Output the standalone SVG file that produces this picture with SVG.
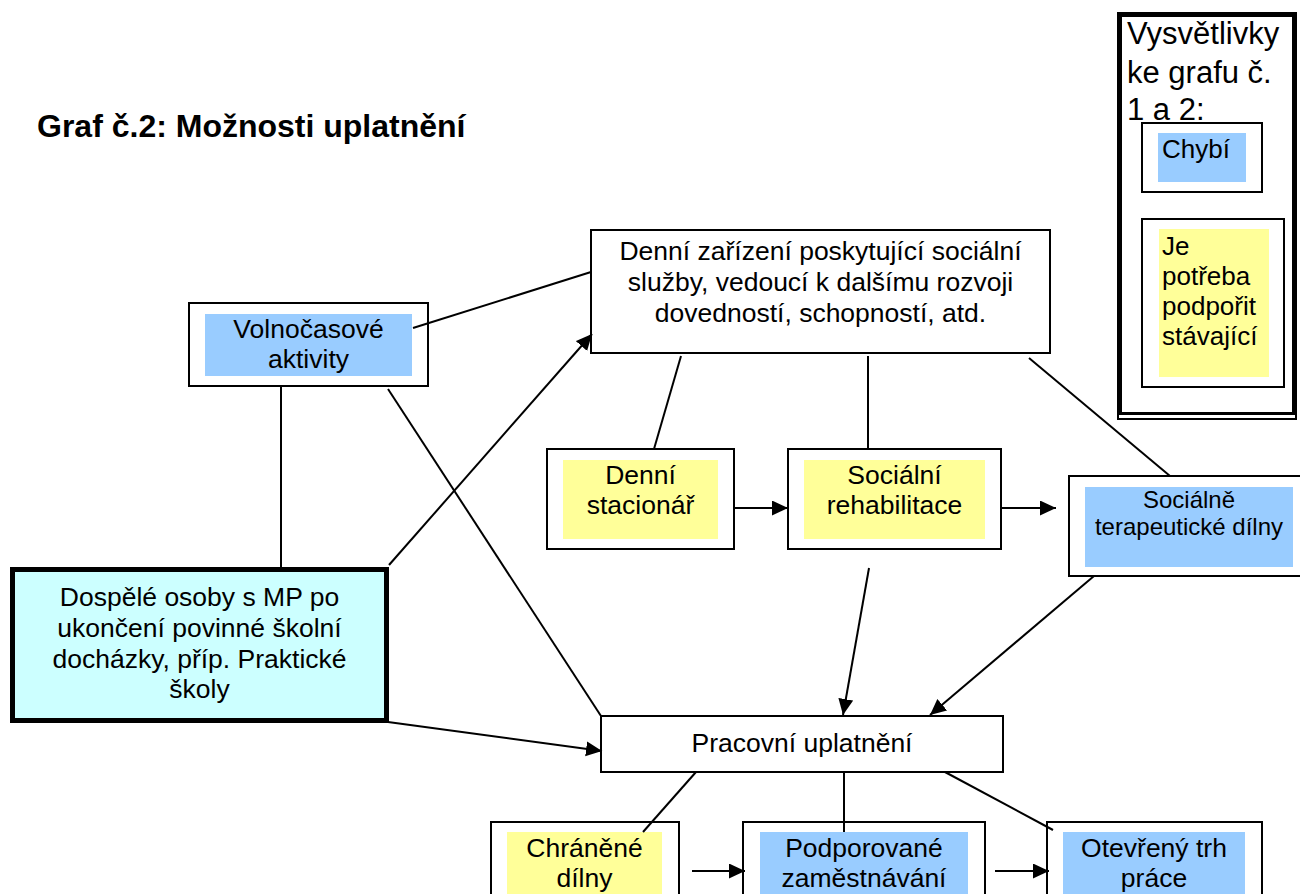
<svg xmlns="http://www.w3.org/2000/svg" width="1300" height="894" viewBox="0 0 1300 894">
<defs>
<style>
text{font-family:"Liberation Sans",Arial,sans-serif;fill:#000}
.t{font-size:26.5px;text-anchor:middle}
.s{font-size:24px;text-anchor:middle}
.l{font-size:26px}
.h{font-size:31px}
.box{fill:#fff;stroke:#000;stroke-width:2}
.blue{fill:#99ccff}
.yel{fill:#ffff99}
.ln{stroke:#000;stroke-width:2;fill:none}
.ar{stroke:#000;stroke-width:2;fill:none;marker-end:url(#ah)}
</style>
<marker id="ah" markerUnits="userSpaceOnUse" markerWidth="17" markerHeight="16" refX="16" refY="7.5" orient="auto">
<path d="M0,0 L16,7.5 L0,15 Z" fill="#000"/>
</marker>
</defs>
<rect width="1300" height="894" fill="#fff"/>
<text x="37" y="137" style="font-size:32px;font-weight:bold">Graf č.2: Možnosti uplatnění</text>

<g id="legend">
<rect x="1118" y="13" width="178" height="406" fill="#fff" stroke="#000" stroke-width="2"/>
<rect x="1120.5" y="15.5" width="173" height="398" fill="none" stroke="#000" stroke-width="3"/>
<text class="h" x="1127" y="44">Vysvětlivky</text>
<text class="h" x="1127" y="83">ke grafu č.</text>
<text class="h" x="1127" y="120">1 a 2:</text>
<g id="legend-missing">
<rect class="box" x="1142" y="123" width="120" height="69"/>
<rect class="blue" x="1158" y="133" width="88" height="49"/>
<text class="l" x="1162" y="158">Chybí</text>
</g>
<g id="legend-support">
<rect class="box" x="1142" y="219" width="142" height="168"/>
<rect class="yel" x="1159" y="229" width="110" height="148"/>
<text class="l" x="1162" y="255">Je</text>
<text class="l" x="1162" y="285">potřeba</text>
<text class="l" x="1162" y="315">podpořit</text>
<text class="l" x="1162" y="345">stávající</text>
</g>
</g>

<g id="volnocasove">
<rect class="box" x="189" y="303" width="239" height="83"/>
<rect class="blue" x="205" y="314" width="207" height="62"/>
<text class="t" x="308.5" y="338">Volnočasové</text>
<text class="t" x="308.5" y="368">aktivity</text>
</g>

<g id="denni-zarizeni">
<rect class="box" x="591" y="230" width="459" height="123"/>
<text class="t" x="820.5" y="260">Denní zařízení poskytující sociální</text>
<text class="t" x="820.5" y="291">služby, vedoucí k dalšímu rozvoji</text>
<text class="t" x="820.5" y="322">dovedností, schopností, atd.</text>
</g>

<g id="denni-stacionar">
<rect class="box" x="547" y="449" width="187" height="100"/>
<rect class="yel" x="563" y="460" width="155" height="79"/>
<text class="t" x="640.5" y="484">Denní</text>
<text class="t" x="640.5" y="514">stacionář</text>
</g>

<g id="socialni-rehabilitace">
<rect class="box" x="788" y="449" width="213" height="100"/>
<rect class="yel" x="804" y="460" width="181" height="79"/>
<text class="t" x="894.5" y="484">Sociální</text>
<text class="t" x="894.5" y="514">rehabilitace</text>
</g>

<g id="socialne-terapeuticke">
<rect class="box" x="1069" y="476" width="240" height="100"/>
<rect class="blue" x="1085" y="487" width="208" height="80"/>
<text class="s" x="1189" y="508">Sociálně</text>
<text class="s" x="1189" y="535">terapeutické dílny</text>
</g>

<g id="dospele-osoby">
<rect x="12.5" y="569.5" width="374" height="151" fill="#ccffff" stroke="#000" stroke-width="5"/>
<text class="t" x="199.5" y="606">Dospělé osoby s MP po</text>
<text class="t" x="199.5" y="637">ukončení povinné školní</text>
<text class="t" x="199.5" y="668">docházky, příp. Praktické</text>
<text class="t" x="199.5" y="698">školy</text>
</g>

<g id="pracovni-uplatneni">
<rect class="box" x="601" y="716" width="402" height="56"/>
<text class="t" x="802" y="752">Pracovní uplatnění</text>
</g>

<g id="chranene-dilny">
<rect class="box" x="491" y="822" width="188" height="80"/>
<rect class="yel" x="507" y="832" width="155" height="70"/>
<text class="t" x="584.5" y="857">Chráněné</text>
<text class="t" x="584.5" y="887">dílny</text>
</g>

<g id="podporovane-zamestnavani">
<rect class="box" x="743" y="822" width="242" height="80"/>
<rect class="blue" x="760" y="832" width="208" height="70"/>
<text class="t" x="864" y="857">Podporované</text>
<text class="t" x="864" y="887">zaměstnávání</text>
</g>

<g id="otevreny-trh">
<rect class="box" x="1047" y="822" width="215" height="80"/>
<rect class="blue" x="1063" y="832" width="182" height="70"/>
<text class="t" x="1154" y="857">Otevřený trh</text>
<text class="t" x="1154" y="887">práce</text>
</g>

<g id="connectors">
<line class="ln" x1="413" y1="328" x2="591" y2="272"/>
<line class="ln" x1="281" y1="386" x2="281" y2="567"/>
<line class="ln" x1="388" y1="389" x2="601" y2="716"/>
<line class="ln" x1="681" y1="356" x2="654" y2="449"/>
<line class="ln" x1="868" y1="356" x2="868" y2="449"/>
<line class="ln" x1="1029" y1="358" x2="1170" y2="476"/>
<line class="ln" x1="696" y1="772" x2="643" y2="832"/>
<line class="ln" x1="844" y1="772" x2="844" y2="832"/>
<line class="ln" x1="945" y1="772" x2="1053" y2="830"/>
<line class="ar" x1="389" y1="565" x2="592" y2="334"/>
<line class="ar" x1="735" y1="508" x2="788" y2="508"/>
<line class="ar" x1="1001" y1="508" x2="1056" y2="508"/>
<line class="ar" x1="869" y1="568" x2="843" y2="715"/>
<line class="ar" x1="1094" y1="576" x2="930" y2="715"/>
<line class="ar" x1="388" y1="722" x2="602" y2="751"/>
<line class="ar" x1="692" y1="871" x2="745" y2="871"/>
<line class="ar" x1="995" y1="871" x2="1049" y2="871"/>
</g>
</svg>
